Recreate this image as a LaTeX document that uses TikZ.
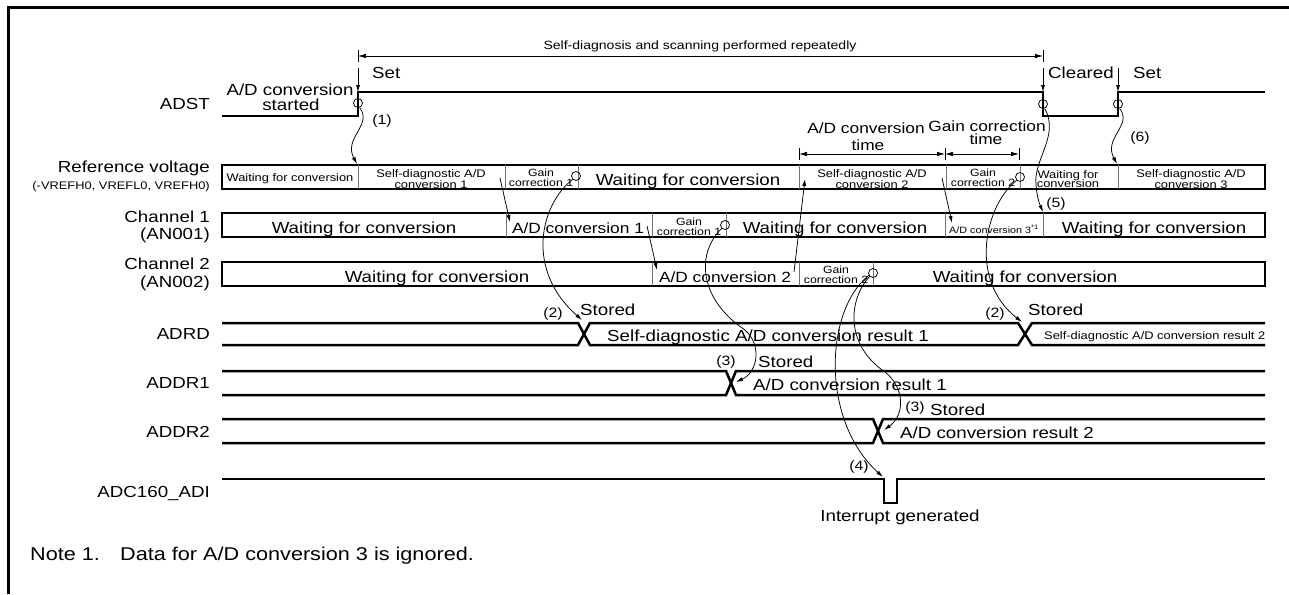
\documentclass[tikz,border=0pt]{standalone}
\usepackage{fontspec}
\setmainfont{Liberation Sans}[FakeStretch=1.17]
\usetikzlibrary{arrows.meta}
\newcommand{\fsz}[2]{\fontsize{#1pt}{#2pt}\selectfont}
\begin{document}
\begin{tikzpicture}[x=1pt,y=-1pt,
  sig/.style={line width=2.5pt},
  rowbox/.style={draw,line width=2.5pt},
  divl/.style={draw=black!55,line width=1pt},
  conn/.style={line width=0.75pt,-{Latex[length=7pt,width=4pt]}},
  evc/.style={draw,circle,minimum size=9pt,inner sep=0pt,line width=0.75pt},
  dimln/.style={line width=0.75pt,{Latex[length=8pt,width=4.5pt]}-{Latex[length=8pt,width=4.5pt]}},
  dtick/.style={line width=0.75pt},
  lbl/.style={anchor=base east,inner sep=0pt,font=\fsz{16}{18}},
  lbls/.style={anchor=base east,inner sep=0pt,font=\fsz{11}{12}},
  big/.style={anchor=base,inner sep=0pt,font=\fsz{16}{18}},
  bigw/.style={anchor=base west,inner sep=0pt,font=\fsz{16}{18}},
  mid/.style={anchor=base,inner sep=0pt,font=\fsz{14.8}{16}},
  sml/.style={anchor=base,inner sep=0pt,font=\fsz{11}{10}},
  tiny/.style={anchor=base,inner sep=0pt,font=\fsz{10.5}{10}},
  num/.style={anchor=base,inner sep=0pt,font=\fsz{13.5}{14}},
  note/.style={anchor=base west,inner sep=0pt,font=\fsz{18.5}{20}}
]
\useasboundingbox (0,0) rectangle (1289,594);
% frame
\draw[line width=3pt] (8,594) -- (8,8) -- (1289,8);

% left labels
\node[lbl] (lADST) at (210,109) {ADST};
\node[lbl] (lREF) at (210,172) {Reference voltage};
\node[lbls] (lREF2) at (210,189) {(-VREFH0, VREFL0, VREFH0)};
\node[lbl] (lCH1) at (210,222) {Channel 1};
\node[lbl] (lCH1b) at (210,239) {(AN001)};
\node[lbl] (lCH2) at (210,269) {Channel 2};
\node[lbl] (lCH2b) at (210,287) {(AN002)};
\node[lbl] (lADRD) at (210,339) {ADRD};
\node[lbl] (lADDR1) at (210,388) {ADDR1};
\node[lbl] (lADDR2) at (210,437) {ADDR2};
\node[lbl] (lADI) at (210,497) {ADC160\_ADI};

% top dimension
\node[anchor=base,inner sep=0pt,font=\fsz{12}{14}] (tdim) at (700,49) {Self-diagnosis and scanning performed repeatedly};
\coordinate (dl) at (358,56);
\coordinate (dr) at (1043,56);
\draw[dtick] (358,50) -- (358,62) (1043,50) -- (1043,62);
\draw[dimln] (dl) -- (dr);

% ADST waveform
\draw[sig] (222,116) -- (358,116) -- (358,92) -- (1043,92) -- (1043,116) -- (1118,116) -- (1118,92) -- (1265,92);
\coordinate (s1a) at (358,68); \coordinate (s1b) at (358,92);
\coordinate (s2a) at (1043,68); \coordinate (s2b) at (1043,92);
\coordinate (s3a) at (1118,68); \coordinate (s3b) at (1118,92);
\draw[conn] (s1a) -- (s1b);
\draw[conn] (s2a) -- (s2b);
\draw[conn] (s3a) -- (s3b);
\node[bigw] (tset1) at (372,78) {Set};
\node[bigw] (tclr) at (1048,78) {Cleared};
\node[bigw] (tset2) at (1133,78) {Set};
\node[big] (tst1) at (290,95) {A/D conversion};
\node[big] (tst2) at (291,110) {started};
\node[evc] (e1) at (358,103) {};
\node[evc] (e2) at (1043,104) {};
\node[evc] (e3) at (1118,104) {};

% A/D conversion time / gain correction time
\draw[dtick] (799,148) -- (799,160) (945,148) -- (945,160) (1019,148) -- (1019,160);
\coordinate (da) at (799,154); \coordinate (db) at (945,154); \coordinate (dc) at (1019,154);
\draw[dimln] (da) -- (db);
\draw[dimln] (db) -- (dc);
\node[mid] (tadt1) at (866,133) {A/D conversion};
\node[mid] (tadt2) at (868,150) {time};
\node[mid] (tgct1) at (987,131) {Gain correction};
\node[mid] (tgct2) at (986,144) {time};

% Reference voltage row
\draw[rowbox] (222,165) rectangle (1265,189);
\foreach \x in {358,505,578,799,946,1020,1118} \draw[divl] (\x,165) -- (\x,189);
\node[sml] (r1) at (290,181) {Waiting for conversion};
\node[sml] (r2a) at (431,177) {Self-diagnostic A/D};
\node[sml] (r2b) at (431,188) {conversion 1};
\node[tiny] (r3a) at (541,176) {Gain};
\node[tiny] (r3b) at (541,186) {correction 1};
\node[big] (r4) at (688,185) {Waiting for conversion};
\node[sml] (r5a) at (872,177) {Self-diagnostic A/D};
\node[sml] (r5b) at (872,188) {conversion 2};
\node[tiny] (r6a) at (983,176) {Gain};
\node[tiny] (r6b) at (983,186) {correction 2};
\node[sml] (r7a) at (1068,178) {Waiting for};
\node[sml] (r7b) at (1068,187) {conversion};
\node[sml] (r8a) at (1191,177) {Self-diagnostic A/D};
\node[sml] (r8b) at (1191,188) {conversion 3};

% Channel 1 row
\draw[rowbox] (222,213) rectangle (1265,237);
\foreach \x in {506,652,726,945,1043} \draw[divl] (\x,213) -- (\x,237);
\node[big] (c1a) at (364,233) {Waiting for conversion};
\node[mid] (c1b) at (578,233) {A/D conversion 1};
\node[tiny] (c1c) at (689,225) {Gain};
\node[tiny] (c1d) at (689,235) {correction 1};
\node[big] (c1e) at (835,233) {Waiting for conversion};
\node[anchor=base,inner sep=0pt,font=\fsz{9.2}{10}] (c1f) at (994,233) {A/D conversion 3\textsuperscript{*1}};
\node[big] (c1g) at (1154,233) {Waiting for conversion};

% Channel 2 row
\draw[rowbox] (222,262) rectangle (1265,286);
\foreach \x in {652,799,873} \draw[divl] (\x,262) -- (\x,286);
\node[big] (c2a) at (437,282) {Waiting for conversion};
\node[mid] (c2b) at (725,282) {A/D conversion 2};
\node[tiny] (c2c) at (836,273) {Gain};
\node[tiny] (c2d) at (836,283) {correction 2};
\node[big] (c2e) at (1025,282) {Waiting for conversion};

% event circles in rows
\node[evc] (g1) at (576,176) {};
\node[evc] (g2) at (1020,177) {};
\node[evc] (g3) at (725,225) {};
\node[evc] (g4) at (873,273) {};

% ADRD bus
\draw[sig] (222,323) -- (578,323) -- (590,345) -- (1018,345) -- (1032,323) -- (1265,323);
\draw[sig] (222,345) -- (578,345) -- (590,323) -- (1018,323) -- (1032,345) -- (1265,345);
\node[bigw] (b1) at (607,341) {Self-diagnostic A/D conversion result 1};
\node[anchor=base west,inner sep=0pt,font=\fsz{11}{12}] (b2) at (1044,339) {Self-diagnostic A/D conversion result 2};
% ADDR1 bus
\draw[sig] (222,371) -- (726,371) -- (736,395) -- (1265,395);
\draw[sig] (222,395) -- (726,395) -- (736,371) -- (1265,371);
\node[bigw] (b3) at (753,390) {A/D conversion result 1};
% ADDR2 bus
\draw[sig] (222,419) -- (873,419) -- (883,443) -- (1265,443);
\draw[sig] (222,443) -- (873,443) -- (883,419) -- (1265,419);
\node[bigw] (b4) at (900,438) {A/D conversion result 2};
% ADI
\draw[sig] (222,479) -- (884,479) -- (884,503) -- (897,503) -- (897,479) -- (1265,479);
\node[big] (tint) at (900,521) {Interrupt generated};

% stored labels
\node[num] (n2a) at (553,317) {(2)};
\node[bigw] (st1) at (580,315) {Stored};
\node[num] (n2b) at (995,317) {(2)};
\node[bigw] (st2) at (1028,315) {Stored};
\node[num] (n3a) at (726,365) {(3)};
\node[bigw] (st3) at (758,367) {Stored};
\node[num] (n3b) at (915,411) {(3)};
\node[bigw] (st4) at (930,415) {Stored};
\node[num] (n4) at (859,470) {(4)};
\node[num] (n1) at (382,124) {(1)};
\node[num] (n5) at (1056,207) {(5)};
\node[num] (n6) at (1140,141) {(6)};

% connector end points
\coordinate (r0) at (357,164);
\coordinate (r6) at (1117,164);
\coordinate (c15) at (1043,212);
\coordinate (x1) at (582,320);
\coordinate (x2) at (1022,322);
\coordinate (x3) at (736,382);
\coordinate (x4) at (884,430);
\coordinate (pl) at (883,477);
\coordinate (sa) at (500,178); \coordinate (ta) at (510,222);
\coordinate (sb) at (647,226); \coordinate (tb) at (657,270);
\coordinate (sc) at (794,272); \coordinate (tc) at (805,179);
\coordinate (sd) at (942,178); \coordinate (td) at (952,223);

% curved connectors
\draw[conn] (e1.-70) .. controls (373,125) and (343,138) .. (r0);
\draw[conn] (e3.-70) .. controls (1133,125) and (1103,138) .. (r6);
\draw[conn] (e2.-70) .. controls (1060,135) and (1033,160) .. (1036,185) .. controls (1037,198) and (1040,205) .. (c15);
\draw[conn] (g1.-135) .. controls (540,205) and (525,270) .. (x1);
\draw[conn] (g2.-135) .. controls (985,205) and (968,280) .. (x2);
\draw[conn] (g3.-135) .. controls (695,255) and (700,300) .. (745,330) .. controls (762,345) and (758,372) .. (x3);
\draw[conn] (g4.-135) .. controls (848,300) and (845,345) .. (885,372) .. controls (905,388) and (905,415) .. (x4);
\draw[conn] (g4.-150) .. controls (825,310) and (820,420) .. (pl);
% straight connectors
\draw[conn] (sa) -- (ta);
\draw[conn] (sb) -- (tb);
\draw[conn] (sc) -- (tc);
\draw[conn] (sd) -- (td);

% note
\node[note] (nt1) at (30,560) {Note 1.};
\node[note] (nt2) at (120,560) {Data for A/D conversion 3 is ignored.};
\end{tikzpicture}
\end{document}
